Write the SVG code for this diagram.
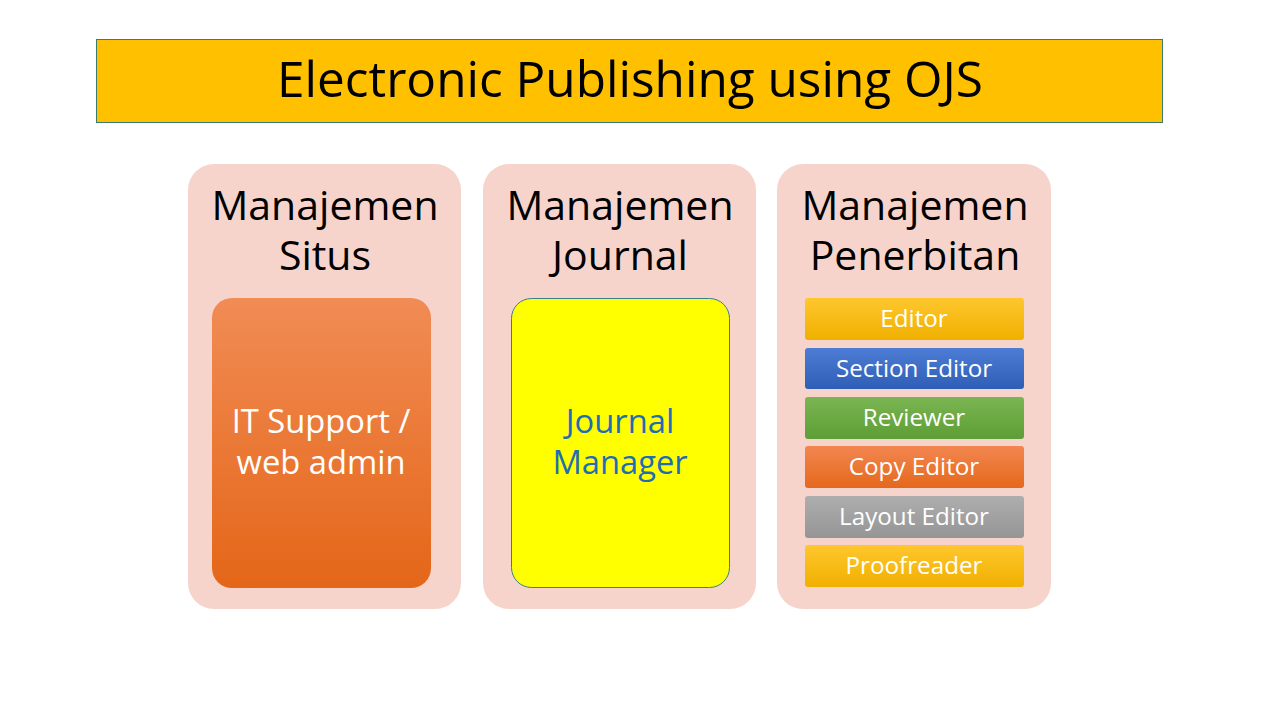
<svg xmlns="http://www.w3.org/2000/svg" width="1280" height="720" viewBox="0 0 1280 720">
<style>
.ttl{font-family:"Open Sans","Liberation Sans",sans-serif;font-size:49.5px;fill:#000;text-anchor:middle}
.hd{font-family:"Open Sans","Liberation Sans",sans-serif;font-size:41px;fill:#000;text-anchor:middle}
.big{font-family:"Open Sans","Liberation Sans",sans-serif;font-size:32.7px;text-anchor:middle}
.sm{font-family:"Open Sans","Liberation Sans",sans-serif;font-size:24.2px;fill:#fff;text-anchor:middle}
.panel{fill:#F7D4CB}
</style>
<defs>
<linearGradient id="gOr" x1="0" y1="0" x2="0" y2="1"><stop offset="0" stop-color="#F18C55"/><stop offset="1" stop-color="#E46618"/></linearGradient>
<linearGradient id="gGold" x1="0" y1="0" x2="0" y2="1"><stop offset="0" stop-color="#FFC72E"/><stop offset="1" stop-color="#F0B000"/></linearGradient>
<linearGradient id="gBlue" x1="0" y1="0" x2="0" y2="1"><stop offset="0" stop-color="#4D7CD4"/><stop offset="1" stop-color="#2E5EB6"/></linearGradient>
<linearGradient id="gGreen" x1="0" y1="0" x2="0" y2="1"><stop offset="0" stop-color="#7AB552"/><stop offset="1" stop-color="#5E9E36"/></linearGradient>
<linearGradient id="gOr2" x1="0" y1="0" x2="0" y2="1"><stop offset="0" stop-color="#F28650"/><stop offset="1" stop-color="#E5681C"/></linearGradient>
<linearGradient id="gGray" x1="0" y1="0" x2="0" y2="1"><stop offset="0" stop-color="#AEAEAE"/><stop offset="1" stop-color="#959595"/></linearGradient>
</defs>
<rect width="1280" height="720" fill="#fff"/>
<g id="title">
<rect x="96.5" y="39.5" width="1066" height="83" fill="#FFC000" stroke="#3C7A6A" stroke-width="1"/>
<text class="ttl" x="630" y="97">Electronic Publishing using OJS</text>
</g>
<g id="situs">
<rect class="panel" x="188" y="164" width="273" height="445" rx="26"/>
<text class="hd" x="325" y="220">Manajemen<tspan x="325" y="270">Situs</tspan></text>
<rect x="212" y="298" width="219" height="290" rx="20" fill="url(#gOr)"/>
<text class="big" x="321" y="433" fill="#fff">IT Support /<tspan x="321" y="474">web admin</tspan></text>
</g>
<g id="journal">
<rect class="panel" x="483" y="164" width="273" height="445" rx="26"/>
<text class="hd" x="620" y="220">Manajemen<tspan x="620" y="270">Journal</tspan></text>
<rect x="511.5" y="298.5" width="218" height="289" rx="20" fill="#FFFF00" stroke="#3A7D8C" stroke-width="1"/>
<text class="big" x="620" y="433" fill="#1F6DB3">Journal<tspan x="620" y="474">Manager</tspan></text>
</g>
<g id="penerbitan">
<rect class="panel" x="777" y="164" width="274" height="445" rx="26"/>
<text class="hd" x="915" y="220">Manajemen<tspan x="915" y="270">Penerbitan</tspan></text>
</g>
<g id="editor"><rect x="805" y="298" width="219" height="42" rx="3" fill="url(#gGold)"/><text class="sm" x="914" y="327">Editor</text></g>
<g id="section-editor"><rect x="805" y="348" width="219" height="41" rx="3" fill="url(#gBlue)"/><text class="sm" x="914" y="377">Section Editor</text></g>
<g id="reviewer"><rect x="805" y="397" width="219" height="42" rx="3" fill="url(#gGreen)"/><text class="sm" x="914" y="426">Reviewer</text></g>
<g id="copy-editor"><rect x="805" y="446" width="219" height="42" rx="3" fill="url(#gOr2)"/><text class="sm" x="914" y="475">Copy Editor</text></g>
<g id="layout-editor"><rect x="805" y="496" width="219" height="42" rx="3" fill="url(#gGray)"/><text class="sm" x="914" y="525">Layout Editor</text></g>
<g id="proofreader"><rect x="805" y="545" width="219" height="42" rx="3" fill="url(#gGold)"/><text class="sm" x="914" y="574">Proofreader</text></g>
<g id="connectors"/>
</svg>
